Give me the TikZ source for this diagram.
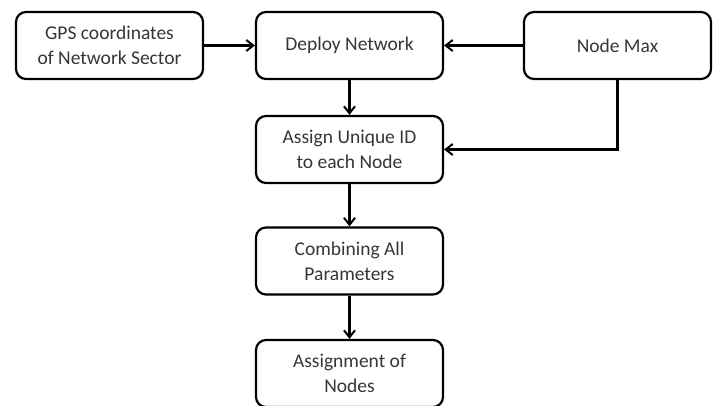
\documentclass[tikz,border=0pt]{standalone}
\usepackage{fontspec}
\setmainfont{Carlito}
\usetikzlibrary{arrows.meta}
\definecolor{txt}{HTML}{363636}
\tikzset{
  flowbox/.style={draw=black, line width=2.2pt, rounded corners=10pt,
    minimum width=187pt, minimum height=67pt, inner sep=0pt,
    align=center, text=txt, font=\fontsize{19.5}{25}\selectfont},
  flow/.style={draw=black, line width=2.2pt,
    -{Straight Barb[length=7pt,width=11pt,line width=2pt]}}
}
\begin{document}
\begin{tikzpicture}[x=1pt,y=-1pt]
\useasboundingbox (0,0) rectangle (718,405);
\node[flowbox] (gps)    at (109.5,45.5)  {GPS coordinates\\of Network Sector};
\node[flowbox] (deploy) at (349.5,45.5)  {Deploy Network};
\node[flowbox] (max)    at (617.5,45.5)  {Node Max};
\node[flowbox] (uid)    at (349.5,149.5) {Assign Unique ID\\to each Node};
\node[flowbox] (comb)   at (349.5,261)   {Combining All\\Parameters};
\node[flowbox] (assign) at (349.5,373.5)   {Assignment of\\Nodes};
\draw[flow] (gps) -- (deploy);
\draw[flow] (max) -- (deploy);
\draw[flow] (deploy) -- (uid);
\draw[flow] (max.south) |- (uid.east);
\draw[flow] (uid) -- (comb);
\draw[flow] (comb) -- (assign);
\end{tikzpicture}
\end{document}
